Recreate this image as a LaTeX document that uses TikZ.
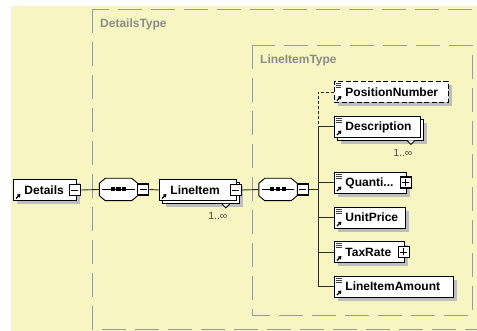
\documentclass[tikz,border=0pt]{standalone}
\usepackage{fontspec}
\setmainfont{Liberation Sans}
\usetikzlibrary{arrows.meta,shadows}

\definecolor{paneyellow}{RGB}{247,245,194}
\definecolor{typeline}{RGB}{155,155,150}
\definecolor{typelabel}{RGB}{140,140,140}
\definecolor{shadowgray}{RGB}{190,190,190}
\definecolor{linkcolor}{RGB}{45,45,35}
\definecolor{occurscolor}{RGB}{70,70,70}

\tikzset{
  boxshadow/.style={drop shadow={shadow xshift=4pt,shadow yshift=-4pt,fill=shadowgray,opacity=1}},
  stackshadow/.style={drop shadow={shadow xshift=7pt,shadow yshift=-7pt,fill=shadowgray,opacity=1},
    copy shadow={shadow xshift=3pt,shadow yshift=-3pt}},
  elembase/.style={rectangle,draw=black,line width=0.9pt,fill=white,
    anchor=west,inner xsep=11pt,inner ysep=0pt,minimum height=21pt,
    text height=8.6pt,text depth=0pt,text width=#1,align=left,
    font=\fontsize{12}{14}\selectfont\bfseries},
  complexelem/.style={elembase=#1,
    path picture={
      \draw[-{Triangle[length=3pt,width=4pt]},line width=1.2pt]
        ([shift={(2.5pt,2pt)}]path picture bounding box.south west) -- ++(4.5pt,4.5pt);
    }},
  simpleelem/.style={elembase=#1,
    path picture={
      \draw[-{Triangle[length=3pt,width=4pt]},line width=1.2pt]
        ([shift={(2.5pt,2pt)}]path picture bounding box.south west) -- ++(4.5pt,4.5pt);
      \foreach \dy in {2,4,6}
        \draw[black!75,line width=0.8pt]
          ([shift={(1.5pt,-\dy pt)}]path picture bounding box.north west) -- ++(6pt,0pt);
    }},
  optional/.style={dash pattern=on 5pt off 2.5pt},
  seqgroup/.style={rectangle,draw=none,minimum width=38pt,minimum height=22pt,inner sep=0pt},
  seqoutline/.style={draw=black,line width=0.9pt,fill=white},
  togglebox/.style={rectangle,draw=black,line width=1.4pt,fill=white,minimum size=11pt,inner sep=0pt},
  collapse/.style={togglebox,
    path picture={
      \draw[line width=0.9pt] ([xshift=2pt]path picture bounding box.west)
        -- ([xshift=-2pt]path picture bounding box.east);
    }},
  expand/.style={togglebox,
    path picture={
      \draw[line width=0.9pt] ([xshift=2pt]path picture bounding box.west)
        -- ([xshift=-2pt]path picture bounding box.east)
        ([yshift=2pt]path picture bounding box.south)
        -- ([yshift=-2pt]path picture bounding box.north);
    }},
  typebox/.style={draw=typeline,line width=0.9pt,dash pattern=on 24pt off 9pt},
  typename/.style={anchor=west,inner sep=0pt,text=typelabel,font=\fontsize{12}{14}\selectfont\bfseries},
  occurs/.style={inner sep=0pt,text=occurscolor,font=\fontsize{10.5}{12}\selectfont},
  notch/.style={fill=white,draw=black,line width=0.9pt},
  link/.style={draw=linkcolor,line width=0.9pt}
}

% octagon of a sequence compositor, drawn round the named node #1
\newcommand\seqpath[1]{([xshift=6pt]#1.north west) -- ([xshift=-6pt]#1.north east)
  -- ([yshift=-5pt]#1.north east) -- ([yshift=5pt]#1.south east)
  -- ([xshift=-6pt]#1.south east) -- ([xshift=6pt]#1.south west)
  -- ([yshift=5pt]#1.south west) -- ([yshift=-5pt]#1.north west) -- cycle}
\newcommand\drawsequence[1]{%
  \fill[shadowgray,shift={(4pt,-4pt)}] \seqpath{#1};
  \filldraw[seqoutline] \seqpath{#1};
  \draw[line width=0.8pt] ([xshift=3pt]#1.west) -- ([xshift=-3pt]#1.east);
  \foreach \dx in {-5.7,0,5.7}
    \fill[black] ([xshift=\dx pt]#1.center) +(-2.1pt,-2pt) rectangle +(2.1pt,2pt);
}

\begin{document}
\begin{tikzpicture}[x=1pt,y=1pt]
\useasboundingbox (0,0) rectangle (477,-331);
\clip (0,0) rectangle (477,-331);
\fill[white] (0,0) rectangle (477,-331);
\fill[paneyellow] (11,-6) rectangle (477,-331);

%Type DetailsType
\draw[typebox] (92,-9) rectangle (490,-329);
\node[typename] (detailstype) at (100,-24) {DetailsType};

%Type LineItemType
\draw[typebox] (252,-45) rectangle (472,-315);
\node[typename] (lineitemtype) at (260,-60) {LineItemType};

%Element Details
\node[complexelem=41pt,boxshadow] (details) at (13,-190) {Details};
\node[collapse] (details-tg) at ([xshift=-2pt]details.east) {};

%Sequence 1
\node[seqgroup] (seqA) at (118.5,-189.5) {};
\drawsequence{seqA}
\node[collapse] (seqA-tg) at ([xshift=5.5pt]seqA.east) {};

%Element LineItem
\node[complexelem=55pt,stackshadow] (lineitem) at (159,-190) {LineItem};
\node[collapse] (lineitem-tg) at ([xshift=-1pt]lineitem.east) {};
\filldraw[notch] ([shift={(-15pt,-3pt)}]lineitem.south east) -- ++(4pt,-4pt) -- ++(4pt,4pt);
\node[occurs] (lineitem-occ) at ([shift={(-19pt,-14.5pt)}]lineitem.south east) {1..∞};

%Sequence 2
\node[seqgroup] (seqB) at (278,-189.5) {};
\drawsequence{seqB}
\node[collapse] (seqB-tg) at ([xshift=5.5pt]seqB.east) {};

%Children of LineItemType
\node[simpleelem=92pt,boxshadow,optional] (posnum) at (334,-92) {PositionNumber};
\node[simpleelem=64pt,stackshadow] (descr) at (334,-126.5) {Description};
\filldraw[notch] ([shift={(-14pt,-3pt)}]descr.south east) -- ++(4pt,-4pt) -- ++(4pt,4pt);
\node[occurs] (descr-occ) at ([shift={(-18pt,-15pt)}]descr.south east) {1..∞};
\node[simpleelem=50pt,boxshadow] (quant) at (334,-182.5) {Quanti...};
\node[expand] (quant-tg) at ([xshift=-1pt]quant.east) {};
\node[simpleelem=49pt,boxshadow] (price) at (334,-217.5) {UnitPrice};
\node[simpleelem=48pt,boxshadow] (tax) at (334,-252) {TaxRate};
\node[expand] (tax-tg) at ([xshift=-1pt]tax.east) {};
\node[simpleelem=97pt,boxshadow] (amount) at (334,-286.5) {LineItemAmount};

%Connectors
\coordinate (bus) at (318,-92);
\draw[link] (details-tg.east) -- (seqA.west);
\draw[link] (seqA-tg.east) -- (lineitem.west);
\draw[link] (lineitem-tg.east) -- (seqB.west);
\draw[link] (seqB-tg.east) -- (seqB-tg.east -| bus);
\draw[link,dash pattern=on 3pt off 2pt] (posnum.west) -- (bus) -- (bus |- descr.west);
\draw[link] (bus |- descr.west) -- (bus |- amount.west);
\foreach \e in {descr,quant,price,tax,amount}
  \draw[link] (bus |- \e.west) -- (\e.west);
\end{tikzpicture}
\end{document}
